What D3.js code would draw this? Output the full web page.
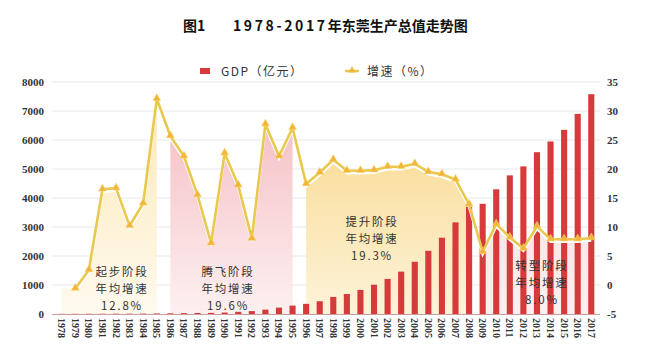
<!DOCTYPE html>
<html>
<head>
<meta charset="utf-8">
<script src="https://cdn.jsdelivr.net/npm/d3@7"></script>
<style>
  body { margin: 0; background: #fff; }
  svg { display: block; }
</style>
</head>
<body>
<svg id="chart"></svg>
<script>
// Chart size
const width = 653;
const height = 360;

// Data
const years = d3.range(1978, 2018).map(String);
const gdp = [6, 7, 8, 9, 11, 12, 14, 19, 24, 30,
  35, 38, 50, 75, 100, 150, 220, 290, 350, 440,
  590, 690, 830, 1010, 1210, 1460, 1800, 2180, 2630, 3160,
  3700, 3800, 4300, 4780, 5090, 5580, 5950, 6350, 6900, 7580];
const growth = [null, -0.6, 2.6, 16.5, 16.7, 10.2, 14.1, 32.1, 25.7, 22.2,
  15.5, 7.2, 22.7, 17.2, 8.0, 27.7, 22.2, 27.1, 17.4, 19.4,
  21.6, 19.7, 19.7, 19.8, 20.4, 20.4, 20.9, 19.5, 19.1, 18.2,
  13.9, 5.7, 10.5, 8.2, 6.3, 10.1, 7.9, 7.9, 7.9, 8.1];
const leftTicks = [0, 1000, 2000, 3000, 4000, 5000, 6000, 7000, 8000];
const rightTicks = [-5, 0, 5, 10, 15, 20, 25, 30, 35];
const stages = [
  { name: "起步阶段", rate: "12.8%", from: "1978", to: "1985" },
  { name: "腾飞阶段", rate: "19.6%", from: "1986", to: "1995" },
  { name: "提升阶段", rate: "19.3%", from: "1996", to: "2008" },
  { name: "转型阶段", rate: "8.0%", from: "2009", to: "2017" }
];

const svg = d3.select("#chart")
  .attr("width", width)
  .attr("height", height);

// Scales
const x = d3.scaleBand().domain(years).range([55, 598]).paddingInner(0.55).paddingOuter(0.27);
const yL = d3.scaleLinear().domain([0, 8000]).range([314, 82]);
const yR = d3.scaleLinear().domain([-5, 35]).range([314, 82]);
const cx = d => x(d) + x.bandwidth() / 2;

// Gradients for stage shading
const defs = svg.append("defs");
const grads = [
  { id: "g0", top: "#fbe8b6", bottom: "#fffaee" },
  { id: "g1", top: "#f4b9bf", bottom: "#fdf0f0" },
  { id: "g2", top: "#f8d684", bottom: "#fdf3d8" },
  { id: "g3", top: "#f8d4d6", bottom: "#fdf0f0" }
];
grads.forEach(g => {
  const lg = defs.append("linearGradient").attr("id", g.id)
    .attr("gradientUnits", "userSpaceOnUse")
    .attr("x1", 0).attr("x2", 0).attr("y1", 90).attr("y2", 314);
  lg.append("stop").attr("offset", "0%").attr("stop-color", g.top);
  lg.append("stop").attr("offset", "100%").attr("stop-color", g.bottom);
});

// Title
const title = svg.append("text")
  .attr("y", 31)
  .attr("font-family", "'Noto Sans CJK SC', sans-serif")
  .attr("font-weight", 700)
  .attr("font-size", 14)
  .attr("fill", "#111");
title.append("tspan").attr("x", 183).text("图1");
title.append("tspan").attr("x", 233).attr("letter-spacing", 2.6).text("1978-2017");
title.append("tspan").attr("letter-spacing", 0).text("年东莞生产总值走势图");

// Gridlines
svg.append("g")
  .selectAll("line")
  .data(leftTicks.slice(1))
  .join("line")
  .attr("x1", 52).attr("x2", 600)
  .attr("y1", d => yL(d)).attr("y2", d => yL(d))
  .attr("stroke", "#e8e8e8")
  .attr("stroke-width", 1);

// Stage shading
const rows = years.map((yr, i) => ({ year: yr, g: growth[i] == null ? growth[i + 1] : growth[i] }));
const area = d3.area()
  .x(d => cx(d.year))
  .y0(314)
  .y1(d => yR(d.g));
svg.append("g")
  .selectAll("path")
  .data(stages)
  .join("path")
  .attr("d", s => area(rows.filter(r => r.year >= s.from && r.year <= s.to)))
  .attr("fill", (s, i) => `url(#g${i})`);

// Bars
svg.append("g")
  .selectAll("rect")
  .data(years)
  .join("rect")
  .attr("x", d => x(d))
  .attr("width", x.bandwidth())
  .attr("y", (d, i) => yL(gdp[i]))
  .attr("height", (d, i) => 314 - yL(gdp[i]))
  .attr("fill", "#d63a3b");

// x axis baseline
svg.append("line")
  .attr("x1", 52).attr("x2", 600)
  .attr("y1", 314.5).attr("y2", 314.5)
  .attr("stroke", "#cf9a9a")
  .attr("stroke-width", 1);

// Growth line
const pts = years.map((yr, i) => ({ year: yr, g: growth[i] })).filter(d => d.g != null);
const line = d3.line().x(d => cx(d.year)).y(d => yR(d.g));
svg.append("path")
  .datum(pts)
  .attr("d", line)
  .attr("transform", "translate(0,2.5)")
  .attr("fill", "none")
  .attr("stroke", "#ffffff")
  .attr("stroke-width", 2.5);
svg.append("path")
  .datum(pts)
  .attr("d", line)
  .attr("fill", "none")
  .attr("stroke", "#e9c84e")
  .attr("stroke-width", 2.6)
  .attr("stroke-linejoin", "round");
svg.append("g")
  .selectAll("path")
  .data(pts)
  .join("path")
  .attr("d", d3.symbol(d3.symbolTriangle, 26))
  .attr("transform", d => `translate(${cx(d.year)},${yR(d.g) - 0.5})`)
  .attr("fill", "#f2b43a")
  .attr("stroke", "#f7d36a")
  .attr("stroke-width", 0.6);

// Left axis labels
svg.append("g")
  .selectAll("text")
  .data(leftTicks)
  .join("text")
  .attr("x", 44)
  .attr("y", d => yL(d) + 4)
  .attr("text-anchor", "end")
  .attr("font-family", "'Liberation Serif', serif")
  .attr("font-weight", 700)
  .attr("font-size", 11)
  .attr("fill", "#333")
  .text(d => d);

// Right axis labels
svg.append("g")
  .selectAll("text")
  .data(rightTicks)
  .join("text")
  .attr("x", 607)
  .attr("y", d => yR(d) + 4)
  .attr("font-family", "'Liberation Serif', serif")
  .attr("font-weight", 700)
  .attr("font-size", 11)
  .attr("fill", "#333")
  .text(d => d);

// x labels, rotated
svg.append("g")
  .selectAll("text")
  .data(years)
  .join("text")
  .attr("transform", d => `translate(${cx(d) - 3.5},318) rotate(90)`)
  .attr("font-family", "'Liberation Serif', serif")
  .attr("font-weight", 700)
  .attr("font-size", 10)
  .attr("fill", "#333")
  .text(d => d);

// Stage labels, one text per line
const labelPos = [
  { x: cx("1982") + 6, y: 276 },
  { x: cx("1989") + 17, y: 276 },
  { x: cx("2001") - 2, y: 226 },
  { x: cx("2013") + 5, y: 270 }
];
const stageLines = stages.flatMap((s, i) =>
  [s.name, "年均增速", s.rate].map((str, j) => ({ str, x: labelPos[i].x, y: labelPos[i].y + j * 17 })));
svg.append("g")
  .selectAll("text")
  .data(stageLines)
  .join("text")
  .attr("x", d => d.x)
  .attr("y", d => d.y)
  .attr("text-anchor", "middle")
  .attr("font-family", "'Noto Sans CJK SC', sans-serif")
  .attr("font-size", 11.5)
  .attr("letter-spacing", 1.8)
  .attr("fill", "#333")
  .text(d => d.str);

// Legend
const legend = svg.append("g")
  .attr("font-family", "'Noto Sans CJK SC', sans-serif")
  .attr("font-size", 12)
  .attr("letter-spacing", 1.5)
  .attr("fill", "#333");
legend.append("rect")
  .attr("x", 200).attr("y", 68).attr("width", 10).attr("height", 6)
  .attr("fill", "#d63a3b");
legend.append("text").attr("x", 221).attr("y", 76).text("GDP（亿元）");
legend.append("line")
  .attr("x1", 345).attr("x2", 359).attr("y1", 71).attr("y2", 71)
  .attr("stroke", "#e9c84e").attr("stroke-width", 2.5);
legend.append("path")
  .attr("d", d3.symbol(d3.symbolTriangle, 22))
  .attr("transform", "translate(352,70.5)")
  .attr("fill", "#f2b43a");
legend.append("text").attr("x", 367).attr("y", 76).text("增速（%）");
</script>
</body>
</html>
